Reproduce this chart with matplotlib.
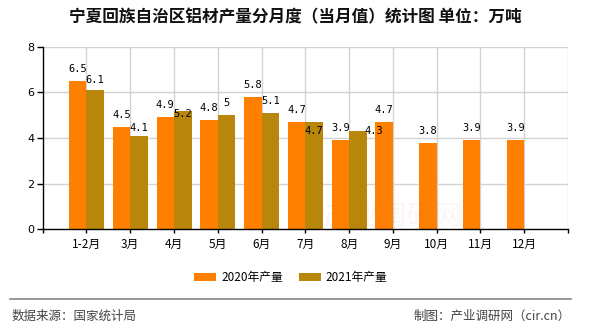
import matplotlib
matplotlib.use("Agg")
import matplotlib.pyplot as plt
from matplotlib.patches import Patch
from matplotlib.lines import Line2D

plt.rcParams['font.family'] = ['Noto Sans CJK SC', 'DejaVu Sans']

months = ["1-2月", "3月", "4月", "5月", "6月", "7月", "8月", "9月", "10月", "11月", "12月"]
output_2020 = [6.5, 4.5, 4.9, 4.8, 5.8, 4.7, 3.9, 4.7, 3.8, 3.9, 3.9]
output_2021 = [6.1, 4.1, 5.2, 5.0, 5.1, 4.7, 4.3]
series_names = ["2020年产量", "2021年产量"]
title = "宁夏回族自治区铝材产量分月度（当月值）统计图 单位：万吨"
source = "数据来源：国家统计局"
credit = "制图：产业调研网（cir.cn）"

c2020 = "#FF8000"
c2021 = "#B8860B"
grid_c = "#D3D3D3"

# label offsets (pixels) for the 2021 series, nudged to avoid collisions
offs_2021 = [(0, 10), (0, 8), (0, -3), (0, 12.5), (0, 12), (0, -9), (16, 0)]

fig = plt.figure(figsize=(5.9, 3.3), dpi=100)
ax = fig.add_axes([0.0724, 0.3051, 0.8903, 0.5534])

w = 0.4
x20 = [i + 1 - w / 2 for i in range(len(output_2020))]
x21 = [i + 1 + w / 2 for i in range(len(output_2021))]
ax.bar(x20, output_2020, width=w, color=c2020, zorder=3)
ax.bar(x21, output_2021, width=w, color=c2021, zorder=3)

px = 0.72  # points per pixel at 100 dpi
lab_font = dict(family="DejaVu Sans Mono", fontsize=7.5, color="#000000")
for x, v in zip(x20, output_2020):
    ax.annotate(f"{v:g}", (x, v), xytext=(0, 12 * px), textcoords="offset points",
                ha="center", va="center", zorder=5, **lab_font)
for (x, v), (dx, dy) in zip(zip(x21, output_2021), offs_2021):
    ax.annotate(f"{v:g}", (x, v), xytext=(dx * px, dy * px), textcoords="offset points",
                ha="center", va="center", zorder=5, **lab_font)

ax.set_xlim(0, 12)
ax.set_ylim(0, 8)
ax.set_xticks(range(0, 13))
ax.set_xticklabels([""] + months + [""], fontsize=8.5)
ax.set_yticks([0, 2, 4, 6, 8])
ax.set_yticklabels(["0", "2", "4", "6", "8"], fontsize=8, family="DejaVu Sans")
ax.tick_params(axis="x", length=3, width=1, color="#000000", pad=3)
ax.tick_params(axis="y", length=4, width=1, color="#000000", pad=2)

for v in range(1, 13):
    ax.axvline(v, color=grid_c, lw=1, zorder=1)
for v in [2, 4, 6, 8]:
    ax.axhline(v, color=grid_c, lw=1, zorder=1)

for s in ["top", "right"]:
    ax.spines[s].set_visible(False)
for s in ["left", "bottom"]:
    ax.spines[s].set_color("#000000")
    ax.spines[s].set_linewidth(1)
    ax.spines[s].set_zorder(4)

# faint watermark
ax.text(8.0, 0.55, "产业调研网", fontsize=20, color="#E05050", alpha=0.06,
        ha="center", va="center", zorder=4)

fig.text(0.5, 1 - 17.5 / 330, title, ha="center", va="center", fontsize=12,
         fontweight="bold", color="#111111")

handles = [Patch(facecolor=c2020), Patch(facecolor=c2021)]
fig.legend(handles, series_names, loc="center", bbox_to_anchor=(291 / 590, 1 - 277.5 / 330),
           ncol=2, frameon=False, fontsize=8.5, handlelength=1.86, handleheight=0.76,
           handletextpad=0.42, columnspacing=1.35, borderaxespad=0, borderpad=0)

fig.add_artist(Line2D([10 / 590, 571 / 590], [1 - 298.7 / 330] * 2, color="#888888", lw=1.2))
fig.text(12 / 590, 1 - 316.7 / 330, source, ha="left", va="center", fontsize=9, color="#444444")
fig.text(571 / 590, 1 - 316.7 / 330, credit, ha="right", va="center", fontsize=9, color="#444444")

fig.savefig("out.png", dpi=100)
